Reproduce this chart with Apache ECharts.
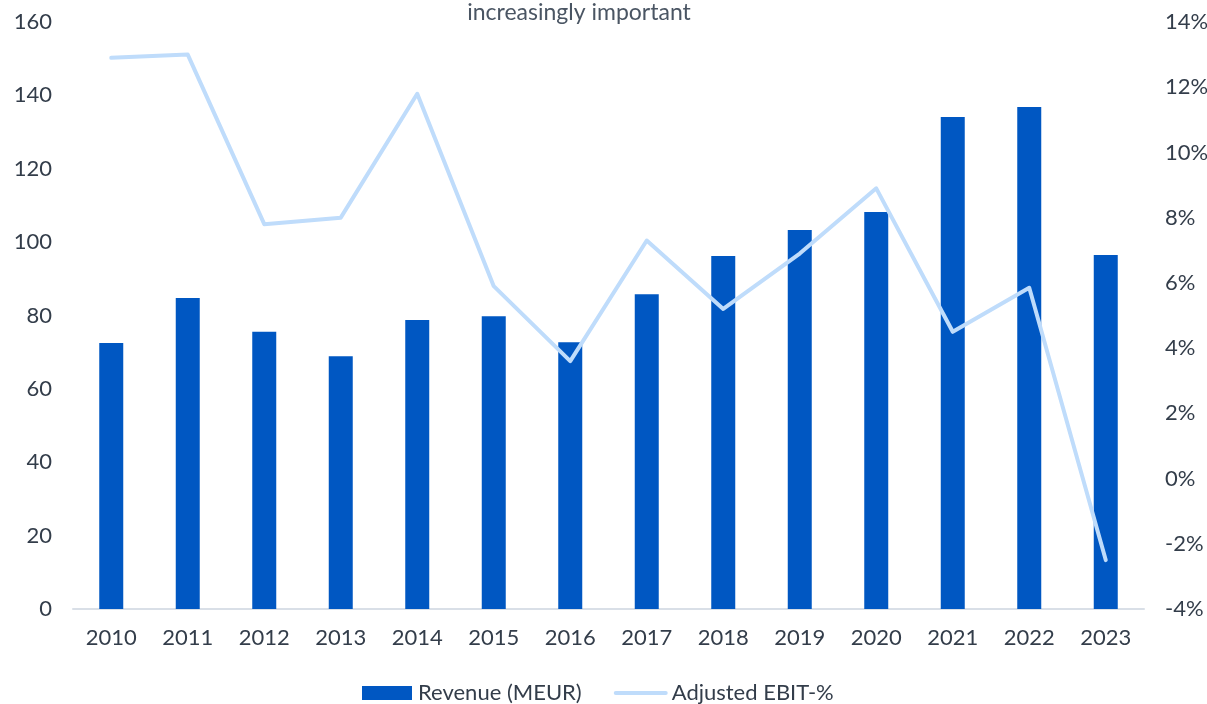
<!DOCTYPE html>
<html>
<head>
<meta charset="utf-8">
<script src="https://cdn.jsdelivr.net/npm/echarts@6/dist/echarts.min.js"></script>
<style>
  html, body { margin: 0; padding: 0; background: #fff; }
  #chart { width: 1207px; height: 704px; }
</style>
</head>
<body>
<div id="chart"></div>
<script>
const years = ['2010','2011','2012','2013','2014','2015','2016','2017','2018','2019','2020','2021','2022','2023'];
const revenue = [72.5, 84.8, 75.6, 68.9, 78.8, 79.8, 72.7, 85.8, 96.2, 103.3, 108.2, 134.1, 136.8, 96.5];
const ebitPct = [12.9, 13.0, 7.8, 8.0, 11.8, 5.9, 3.6, 7.3, 5.2, 6.9, 8.9, 4.5, 5.85, -2.5];
const leftTicks = { min: 0, max: 160, interval: 20 };
const rightTicks = { min: -4, max: 14, interval: 2 };

const textColor = '#333d4a';
const font = 'Lato, "Open Sans", sans-serif';
const barColor = '#0057c2';
const lineColor = '#bfdcfb';

const chart = echarts.init(document.getElementById('chart'), null, { renderer: 'canvas' });
chart.setOption({
  animation: false,
  textStyle: { fontFamily: font, color: textColor },
  title: {
    text: 'increasingly important',
    left: 574, top: -4, textAlign: 'center',
    textStyle: { fontFamily: font, fontSize: 23, fontWeight: 'normal', color: '#4a5563' }
  },
  legend: {
    top: 682, left: 362, padding: 0, itemGap: 32, itemWidth: 50, itemHeight: 14,
    textStyle: { fontFamily: font, fontSize: 22, lineHeight: 22, color: textColor, padding: [0, 0, 0, 1] },
    data: [
      { name: 'Revenue (MEUR)', icon: 'rect', itemStyle: { color: barColor } },
      { name: 'Adjusted EBIT-%', itemStyle: { opacity: 0 },
        lineStyle: { color: lineColor, width: 4, cap: 'round' } }
    ]
  },
  grid: { left: 73, right: 63, top: 22, bottom: 95, containLabel: false, outerBoundsMode: 'none' },
  xAxis: {
    type: 'category', data: years,
    axisLine: { lineStyle: { color: '#d9dfe7', width: 2 } },
    axisTick: { show: false },
    axisLabel: { fontFamily: font, fontSize: 22, color: textColor, margin: 18 }
  },
  yAxis: [
    {
      type: 'value', min: leftTicks.min, max: leftTicks.max, interval: leftTicks.interval,
      axisLine: { show: false }, axisTick: { show: false }, splitLine: { show: false },
      axisLabel: { fontFamily: font, fontSize: 22, color: textColor, margin: 21, align: 'right' }
    },
    {
      type: 'value', min: rightTicks.min, max: rightTicks.max, interval: rightTicks.interval,
      axisLine: { show: false }, axisTick: { show: false }, splitLine: { show: false },
      axisLabel: { fontFamily: font, fontSize: 22, color: textColor, margin: 21, formatter: '{value}%' }
    }
  ],
  series: [
    {
      name: 'Revenue (MEUR)', type: 'bar', data: revenue, yAxisIndex: 0,
      barWidth: 24, itemStyle: { color: barColor }
    },
    {
      name: 'Adjusted EBIT-%', type: 'line', data: ebitPct, yAxisIndex: 1,
      symbol: 'none', lineStyle: { color: lineColor, width: 4, cap: 'round', join: 'round' },
      itemStyle: { color: lineColor }
    }
  ]
});
</script>
</body>
</html>
